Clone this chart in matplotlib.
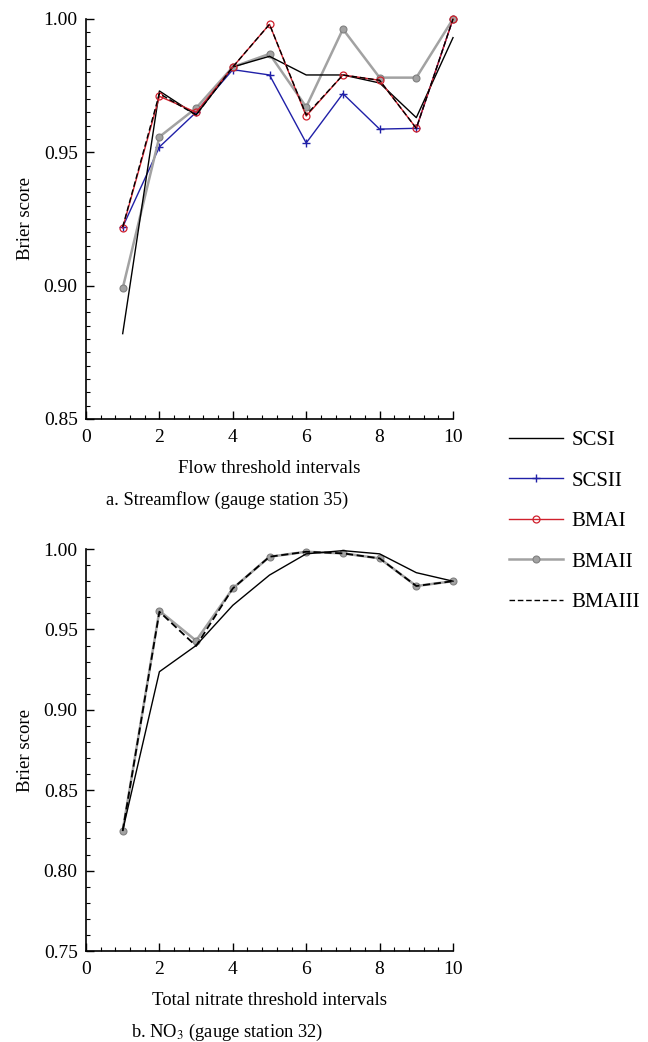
import matplotlib
matplotlib.use("Agg")
import matplotlib.pyplot as plt
from matplotlib.ticker import MultipleLocator, FormatStrFormatter

plt.rcParams['font.family'] = ['Liberation Serif', 'DejaVu Serif']
plt.rcParams['mathtext.fontset'] = 'stix'

x = [1, 2, 3, 4, 5, 6, 7, 8, 9, 10]

# Panel a: streamflow
a_scsi   = [0.882, 0.973, 0.964, 0.982, 0.986, 0.979, 0.979, 0.976, 0.963, 0.993]
a_scsii  = [0.922, 0.952, 0.965, 0.981, 0.979, 0.9535, 0.972, 0.9587, 0.959, 1.000]
a_bmai   = [0.9216, 0.971, 0.965, 0.982, 0.998, 0.9636, 0.979, 0.977, 0.959, 1.000]
a_bmaii  = [0.899, 0.9558, 0.9666, 0.982, 0.9869, 0.967, 0.9962, 0.978, 0.978, 1.000]
a_bmaiii = [0.922, 0.972, 0.964, 0.982, 0.998, 0.964, 0.979, 0.977, 0.959, 1.000]

# Panel b: NO3
b_scsi   = [0.825, 0.9237, 0.940, 0.965, 0.9838, 0.997, 0.999, 0.997, 0.9853, 0.980]
b_bmaii  = [0.8248, 0.9616, 0.943, 0.9755, 0.9952, 0.9983, 0.9973, 0.9942, 0.977, 0.980]
b_bmaiii = [0.8248, 0.9610, 0.9397, 0.9755, 0.9952, 0.9983, 0.9973, 0.9942, 0.977, 0.980]

labels = ['SCSI', 'SCSII', 'BMAI', 'BMAII', 'BMAIII']
titles = ['a. Streamflow (gauge station 35)', 'b. NO$_3$ (gauge station 32)']
xlabels = ['Flow threshold intervals', 'Total nitrate threshold intervals']

fig = plt.figure(figsize=(6.48, 10.42), dpi=100)
ax1 = fig.add_axes([0.1327, 0.5979, 0.5664, 0.3839])
ax2 = fig.add_axes([0.1327, 0.0873, 0.5664, 0.3858])

blue = '#2020a8'
red = '#d0202c'
gray = '#a2a2a2'
lw = 1.0

def style(ax, ylo, yminor, xl, title):
    ax.set_xlim(0, 10)
    ax.set_ylim(ylo, 1.0)
    for s in ['top', 'right']:
        ax.spines[s].set_visible(False)
    for s in ['left', 'bottom']:
        ax.spines[s].set_linewidth(1.2)
    ax.xaxis.set_major_locator(MultipleLocator(2))
    ax.xaxis.set_minor_locator(MultipleLocator(0.4))
    ax.yaxis.set_major_locator(MultipleLocator(0.05))
    ax.yaxis.set_minor_locator(MultipleLocator(yminor))
    ax.yaxis.set_major_formatter(FormatStrFormatter('%.2f'))
    ax.tick_params(which='major', direction='in', length=6, width=1.0, labelsize=14)
    ax.tick_params(axis='x', which='major', pad=7)
    ax.tick_params(axis='y', which='major', pad=6)
    ax.tick_params(which='minor', direction='in', length=3, width=0.8)
    ax.set_xlabel(xl, fontsize=13.5, labelpad=10)
    ax.set_ylabel('Brier score', fontsize=13.5, labelpad=7)
    ax.text(0.385, -0.202, title, transform=ax.transAxes, ha='center', va='center', fontsize=13.3)

# Panel a
h1, = ax1.plot(x, a_scsi, color='black', lw=lw, label=labels[0], clip_on=False, zorder=3)
h2, = ax1.plot(x, a_scsii, color=blue, lw=lw, marker='+', ms=6, mew=1.0, label=labels[1], clip_on=False, zorder=2)
h3, = ax1.plot(x, a_bmai, color=red, lw=lw, marker='o', ms=5, mfc='none', mew=0.9, label=labels[2], clip_on=False, zorder=3)
h4, = ax1.plot(x, a_bmaii, color=gray, lw=1.8, marker='o', ms=5, mfc=gray, mec='#808080', mew=0.8, label=labels[3], clip_on=False, zorder=2)
h5, = ax1.plot(x, a_bmaiii, color='black', lw=lw, ls=(0, (4, 2)), label=labels[4], clip_on=False, zorder=4)
style(ax1, 0.85, 0.005, xlabels[0], titles[0])

# Panel b
ax2.plot(x, b_scsi, color='black', lw=lw, clip_on=False, zorder=3)
ax2.plot(x, b_bmaii, color=gray, lw=1.8, marker='o', ms=5, mfc=gray, mec='#808080', mew=0.8, clip_on=False, zorder=2)
ax2.plot(x, b_bmaiii, color='black', lw=1.3, ls=(0, (4, 2)), clip_on=False, zorder=4)
style(ax2, 0.75, 0.01, xlabels[1], titles[1])

leg = fig.legend(handles=[h1, h2, h3, h4, h5], labels=labels, loc='upper left',
                 bbox_to_anchor=(0.757, 0.6046), frameon=False, fontsize=15,
                 labelspacing=1.0, handlelength=2.6, handletextpad=0.4)

fig.savefig('out.png', dpi=100)
